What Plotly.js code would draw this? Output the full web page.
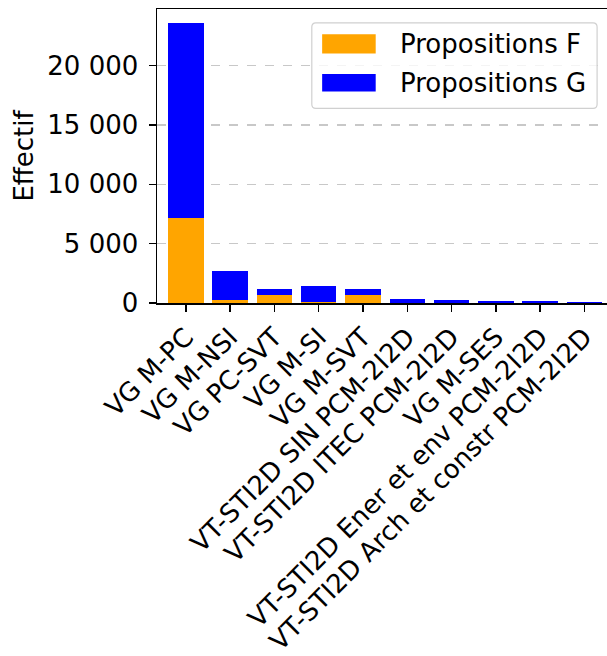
<!DOCTYPE html>
<html>
<head>
<meta charset="utf-8">
<script src="https://cdn.plot.ly/plotly-3.0.1.min.js"></script>
<style>html,body{margin:0;padding:0;background:#fff;}</style>
</head>
<body>
<div id="chart" style="width:607px;height:656px;"></div>
<script>
const categories = ["VG M-PC", "VG M-NSI", "VG PC-SVT", "VG M-SI", "VG M-SVT",
  "VT-STI2D SIN PCM-2I2D", "VT-STI2D ITEC PCM-2I2D", "VG M-SES",
  "VT-STI2D Ener et env PCM-2I2D", "VT-STI2D Arch et constr PCM-2I2D"];
const propositionsF = [7160, 250, 710, 120, 650, 0, 0, 0, 0, 0];
const propositionsG = [16390, 2450, 500, 1290, 500, 350, 290, 200, 160, 100];
const seriesNames = ["Propositions F", "Propositions G"];
const yTicks = [0, 5000, 10000, 15000, 20000];
const colors = ["#FFA500", "#0000FF"];

const font = "DejaVu Sans, sans-serif";
const fs = 26;
const xIdx = categories.map((_, i) => i);

const traces = [
  {type: "bar", x: xIdx, y: propositionsF, name: seriesNames[0], marker: {color: colors[0]}, showlegend: false},
  {type: "bar", x: xIdx, y: propositionsG, name: seriesNames[1], marker: {color: colors[1]}, showlegend: false}
];

function roundRect(x0, y0, x1, y1, rx, ry) {
  return `M ${x0+rx} ${y0} L ${x1-rx} ${y0} Q ${x1} ${y0} ${x1} ${y0+ry} L ${x1} ${y1-ry} Q ${x1} ${y1} ${x1-rx} ${y1} L ${x0+rx} ${y1} Q ${x0} ${y1} ${x0} ${y1-ry} L ${x0} ${y0+ry} Q ${x0} ${y0} ${x0+rx} ${y0} Z`;
}
const shapes = [
  {type: "path", xref: "paper", yref: "paper", path: roundRect(0.344, 0.662, 0.978, 0.953, 0.009, 0.014),
   fillcolor: "rgba(255,255,255,0.8)", line: {color: "#d0d0d0", width: 1.2}, layer: "above"},
  {type: "rect", xref: "paper", yref: "paper", x0: 0.367, x1: 0.486, y0: 0.849, y1: 0.914,
   fillcolor: colors[0], line: {width: 0}, layer: "above"},
  {type: "rect", xref: "paper", yref: "paper", x0: 0.367, x1: 0.486, y0: 0.719, y1: 0.779,
   fillcolor: colors[1], line: {width: 0}, layer: "above"}
];
const annotations = [
  {xref: "paper", yref: "paper", x: 0.536, y: 0.881, xanchor: "left", yanchor: "middle", showarrow: false,
   text: seriesNames[0], font: {family: font, size: fs, color: "#000"}},
  {xref: "paper", yref: "paper", x: 0.536, y: 0.749, xanchor: "left", yanchor: "middle", showarrow: false,
   text: seriesNames[1], font: {family: font, size: fs, color: "#000"}}
];

const layout = {
  width: 607, height: 656,
  margin: {l: 157, r: 0, t: 9, b: 353, pad: 0},
  paper_bgcolor: "#fff", plot_bgcolor: "#fff",
  barmode: "stack", bargap: 0.2,
  separators: ", ",
  font: {family: font, size: fs, color: "#000"},
  showlegend: false,
  xaxis: {
    range: [-0.65, 9.51], tickmode: "array", tickvals: xIdx, ticktext: categories,
    tickangle: -45, ticks: "outside", ticklen: 7, tickwidth: 1.5, tickcolor: "#000",
    showline: true, linecolor: "#000", linewidth: 1.5, mirror: true,
    showgrid: false, zeroline: false, tickfont: {family: font, size: fs}
  },
  yaxis: {
    range: [0, 24770], tickmode: "array", tickvals: yTicks, tickformat: ",d",
    ticks: "outside", ticklen: 7, tickwidth: 1.5, tickcolor: "#000",
    ticklabelstandoff: 5,
    showline: true, linecolor: "#000", linewidth: 1.5,
    showgrid: true, gridcolor: "#c8c8c8", gridwidth: 1.2, griddash: "dash",
    zeroline: false, tickfont: {family: font, size: fs},
    title: {text: "Effectif", font: {family: font, size: fs}, standoff: 6}
  },
  shapes: shapes,
  annotations: annotations
};

Plotly.newPlot("chart", traces, layout, {displayModeBar: false, staticPlot: true});
</script>
</body>
</html>
